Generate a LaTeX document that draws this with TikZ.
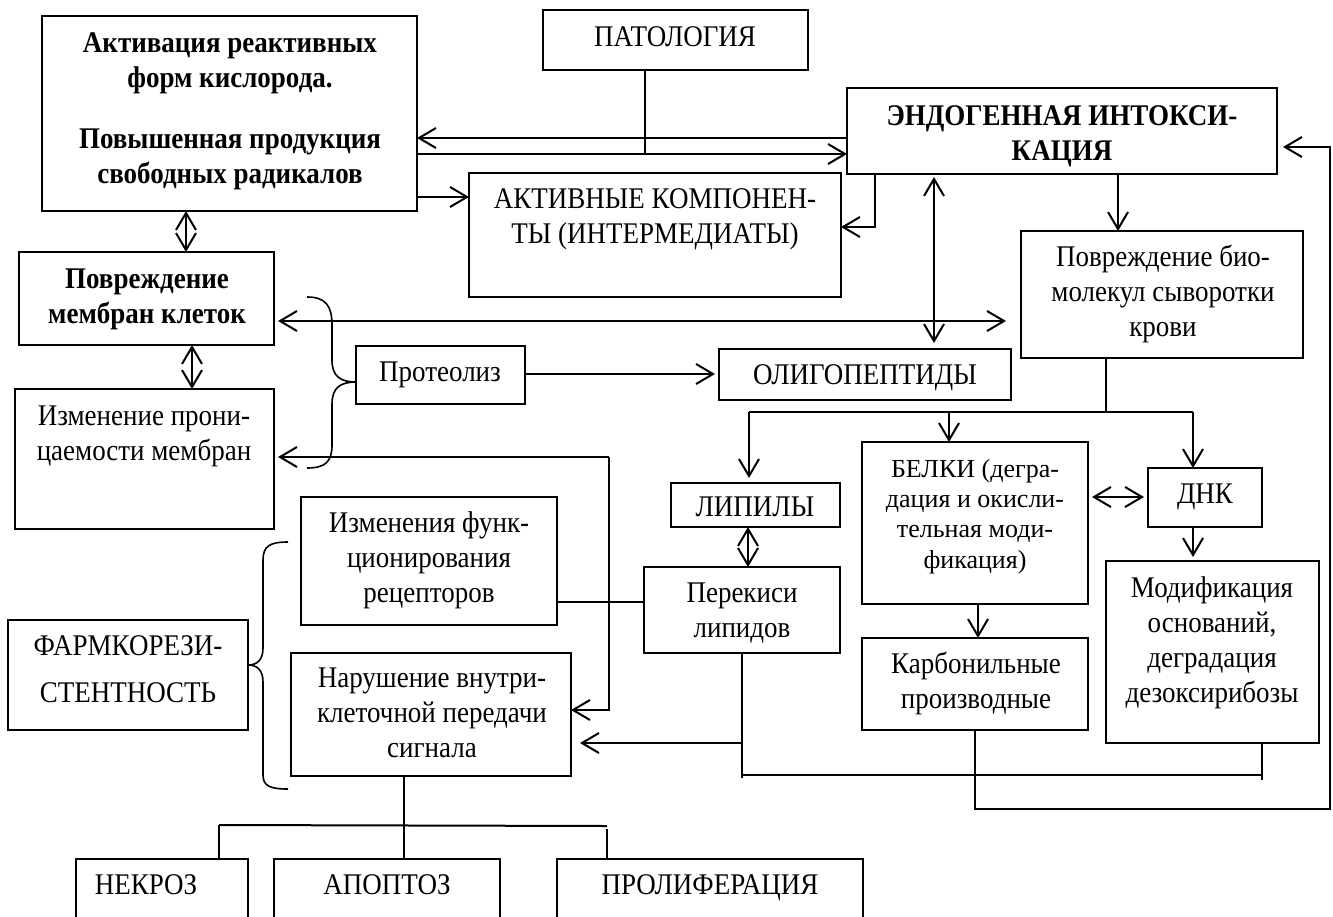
\documentclass[tikz,border=0pt]{standalone}
\usepackage{fontspec}
\setmainfont{Liberation Serif}[FakeStretch=0.9]
\newfontfamily\belkifont{Liberation Serif}
\usetikzlibrary{arrows.meta}
\newcommand\bx[5]{\node[box, minimum width={#4pt-#2pt}, minimum height={#5pt-#3pt}] (#1) at (#2,#3) {};}
\begin{document}
\begin{tikzpicture}[x=1pt,y=-1pt,
  box/.style={draw, line width=1.3pt, inner sep=0pt, outer sep=0pt, anchor=north west},
  txt/.style={align=center, anchor=base, inner sep=0pt, font=\fontsize{30}{35}\selectfont},
  conn/.style={line width=2pt},
  arr/.style={conn, -{Straight Barb[length=17pt,width=20pt]}},
  darr/.style={conn, {Straight Barb[length=17pt,width=20pt]}-{Straight Barb[length=17pt,width=20pt]}},
  brace/.style={line width=1.6pt}]
\fill[white] (0,0) rectangle (1333,916);
\useasboundingbox (0,0) rectangle (1333,916);
\clip (0,0) rectangle (1333,916);
% boxes
\bx{act}{42}{16}{417}{211}
\bx{pat}{543}{10}{808}{70}
\bx{endo}{847}{88}{1277}{174}
\bx{aktiv}{469}{173}{841}{297}
\bx{pm}{19}{252}{274}{345}
\bx{izm}{15}{389}{274}{529}
\bx{prot}{356}{346}{525}{404}
\bx{oligo}{719}{349}{1011}{400}
\bx{bio}{1021}{231}{1303}{358}
\bx{lip}{671}{483}{840}{527}
\bx{perek}{644}{567}{840}{653}
\bx{belki}{862}{442}{1088}{604}
\bx{dnk}{1148}{468}{1262}{527}
\bx{karb}{862}{638}{1088}{730}
\bx{modif}{1106}{561}{1319}{743}
\bx{recep}{301}{497}{557}{625}
\bx{farm}{8}{620}{248}{730}
\bx{narush}{291}{653}{571}{776}
\bx{nekr}{76}{859}{248}{960}
\bx{apop}{274}{859}{500}{960}
\bx{prolif}{557}{859}{863}{960}
% texts (base anchor = baseline of the last line)
\node[txt] (tact1) at (230,87) {\bfseries Активация реактивных\\\bfseries форм кислорода.};
\node[txt] (tact2) at (230,183) {\bfseries Повышенная продукция\\\bfseries свободных радикалов};
\node[txt] (tpat) at (675,46) {ПАТОЛОГИЯ};
\node[txt] (tendo) at (1062,160) {\bfseries ЭНДОГЕННАЯ ИНТОКСИ-\\\bfseries КАЦИЯ};
\node[txt] (taktiv) at (655,243) {АКТИВНЫЕ КОМПОНЕН-\\ТЫ (ИНТЕРМЕДИАТЫ)};
\node[txt] (tpm) at (147,323) {\bfseries Повреждение\\\bfseries мембран клеток};
\node[txt] (tizm) at (144,460) {Изменение прони-\\цаемости мембран};
\node[txt] (tprot) at (440,381) {Протеолиз};
\node[txt] (toligo) at (865,384) {ОЛИГОПЕПТИДЫ};
\node[txt] (tbio) at (1163,336) {Повреждение био-\\молекул сыворотки\\крови};
\node[txt] (tlip) at (755,516) {ЛИПИЛЫ};
\node[txt] (tperek) at (742,637) {Перекиси\\липидов};
\node[txt, font=\belkifont\fontsize{26}{30.3}\selectfont] (tbelki) at (975,568) {БЕЛКИ (дегра-\\дация и окисли-\\тельная моди-\\фикация)};
\node[txt] (tdnk) at (1205,503) {ДНК};
\node[txt] (tkarb) at (976,708) {Карбонильные\\производные};
\node[txt] (tmodif) at (1212,702) {Модификация\\оснований,\\деградация\\дезоксирибозы};
\node[txt] (trecep) at (429,602) {Изменения функ-\\ционирования\\рецепторов};
\node[txt] (tfarm) at (128,702) {ФАРМКОРЕЗИ-\\[12pt]СТЕНТНОСТЬ};
\node[txt] (tnarush) at (432,757) {Нарушение внутри-\\клеточной передачи\\сигнала};
\node[txt] (tnekr) at (146,894) {НЕКРОЗ};
\node[txt] (tapop) at (387,894) {АПОПТОЗ};
\node[txt] (tprolif) at (710,894) {ПРОЛИФЕРАЦИЯ};
% connectors
\draw[conn] (pat.south -| 645,0) -- (645,154);
\draw[arr] (endo.west |- 0,138) -- (act.east |- 0,138);
\draw[arr] (act.east |- 0,154) -- (endo.west |- 0,154);
\draw[arr] (act.east |- 0,197) -- (aktiv.west |- 0,197);
\draw[arr] (endo.south -| 875,0) |- (aktiv.east |- 0,227);
\draw[darr, shorten <=3pt, shorten >=6pt] (endo.south -| 934,0) -- (oligo.north -| 934,0);
\draw[darr, shorten <=4pt, shorten >=15pt] (pm.east |- 0,321) -- (bio.west |- 0,321);
\draw[arr] (endo.south -| 1118,0) -- (bio.north -| 1118,0);
\draw[darr] (act.south -| 186,0) -- (pm.north -| 186,0);
\draw[darr] (pm.south -| 192,0) -- (izm.north -| 192,0);
\draw[conn] (bio.south -| 1106,0) -- (1106,412);
\draw[conn] (749,412) -- (1193,412);
\draw[arr, shorten >=5pt] (749,412) -- (lip.north -| 749,0);
\draw[arr] (949,412) -- (belki.north -| 949,0);
\draw[arr] (1193,412) -- (dnk.north -| 1193,0);
\draw[darr] (lip.south -| 748,0) -- (perek.north -| 748,0);
\draw[darr, shorten <=4pt, shorten >=4pt] (belki.east |- 0,497) -- (dnk.west |- 0,497);
\draw[arr, shorten >=4pt] (dnk.south -| 1193,0) -- (modif.north -| 1193,0);
\draw[arr] (belki.south -| 978,0) -- (karb.north -| 978,0);
\draw[arr, shorten >=4pt] (prot.east |- 0,374) -- (oligo.west |- 0,374);
\draw[brace] (307,297) .. controls (325,297) and (332,305) .. (332,325) -- (332,360)
  .. controls (332,376) and (340,382) .. (prot.west |- 0,382)
  .. controls (340,382) and (332,388) .. (332,404) -- (332,445)
  .. controls (332,462) and (325,468) .. (307,468);
\draw[arr, shorten >=4pt] (609,457) -- (izm.east |- 0,457);
\draw[arr] (609,457) |- (narush.east |- 0,710);
\draw[conn] (recep.east |- 0,602) -- (perek.west |- 0,602);
\draw[conn] (perek.south -| 742,0) -- (742,778);
\draw[arr, shorten >=9pt] (742,743) -- (narush.east |- 0,743);
\draw[conn] (742,775) -- (1262,775);
\draw[conn] (modif.south -| 1262,0) -- (1262,780);
\draw[arr, shorten >=6pt] (karb.south -| 975,0) |- (1330,809) |- (endo.east |- 0,147);
\draw[brace] (288,542) .. controls (270,542) and (263,546) .. (263,560) -- (263,648)
  .. controls (263,660) and (257,665) .. (farm.east |- 0,665)
  .. controls (257,665) and (263,670) .. (263,682) -- (263,775)
  .. controls (263,786) and (270,789) .. (288,789);
\draw[conn] (narush.south -| 404,0) -- (404,825);
\draw[conn] (219,825) -- (607,826);
\draw[conn] (219,825) -- (nekr.north -| 219,0);
\draw[conn] (404,825) -- (apop.north -| 404,0);
\draw[conn] (607,829) -- (prolif.north -| 607,0);
\end{tikzpicture}
\end{document}
